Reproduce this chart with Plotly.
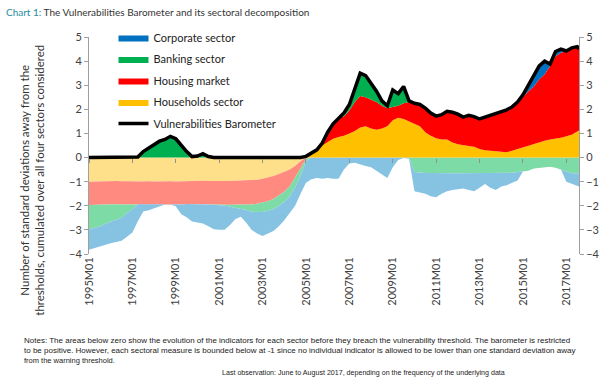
import plotly.graph_objects as go

# ---------------- data (quarterly readings, standard deviations) ----------------
months = [f"{y}M{m:02d}" for y in range(1995, 2017) for m in (1, 4, 7, 10)] + ["2017M01", "2017M04", "2017M07", "2017M08"]

households = [
    -1.00, -0.99, -1.00, -0.98, -0.98, -0.97, -0.98, -0.97, -0.98, -0.99, -0.97, -0.98,
    -0.99, -0.98, -0.97, -0.98, -0.99, -0.98, -0.97, -0.98, -0.97, -0.96, -0.97, -0.98,
    -0.98, -0.97, -0.97, -0.96, -0.97, -0.96, -0.95, -0.92, -0.88, -0.83, -0.77, -0.68,
    -0.60, -0.50, -0.35, -0.15, 0.05, 0.18, 0.30, 0.50, 0.65, 0.78, 0.85, 0.90,
    1.00, 1.10, 1.25, 1.30, 1.20, 1.15, 1.20, 1.30, 1.55, 1.65, 1.60, 1.50,
    1.42, 1.30, 1.05, 0.90, 0.80, 0.75, 0.75, 0.62, 0.55, 0.50, 0.48, 0.45,
    0.35, 0.30, 0.28, 0.26, 0.23, 0.22, 0.28, 0.35, 0.42, 0.50, 0.58, 0.63,
    0.70, 0.75, 0.78, 0.82, 0.88, 0.95, 1.08, 1.12]

housing = [
    -0.97, -0.97, -0.96, -0.97, -0.96, -0.97, -0.97, -0.98, -0.96, -0.95, -0.97, -0.96,
    -0.97, -0.98, -0.98, -0.97, -0.98, -0.97, -0.96, -0.97, -0.97, -0.98, -0.98, -0.99,
    -0.99, -0.99, -0.99, -1.00, -1.00, -1.00, -1.00, -1.00, -1.00, -0.98, -0.95, -0.90,
    -0.82, -0.70, -0.50, -0.30, -0.05, 0.00, 0.02, 0.10, 0.40, 0.62, 0.80, 0.80,
    0.95, 1.20, 1.30, 1.20, 1.20, 1.15, 0.95, 0.75, 0.55, 0.50, 0.65, 0.80,
    0.83, 0.90, 1.00, 0.95, 0.92, 1.03, 1.17, 1.26, 1.25, 1.18, 1.27, 1.25,
    1.25, 1.38, 1.47, 1.56, 1.67, 1.76, 1.82, 1.95, 2.08, 2.25, 2.37, 2.62,
    2.75, 3.05, 3.42, 3.53, 3.54, 3.60, 3.52, 3.38]

banking = [
    -1.00, -0.95, -0.90, -0.80, -0.72, -0.65, -0.55, -0.35, -0.20, 0.02, 0.25, 0.40,
    0.55, 0.68, 0.75, 0.80, 0.78, 0.50, 0.25, 0.04, 0.06, 0.16, 0.04, 0.00,
    -0.02, -0.03, -0.08, -0.12, -0.15, -0.22, -0.30, -0.35, -0.38, -0.40, -0.42, -0.42,
    -0.42, -0.41, -0.38, -0.30, -0.10, 0.00, 0.00, 0.00, 0.00, 0.00, 0.00, 0.15,
    0.25, 0.50, 0.95, 0.90, 0.70, 0.45, 0.20, 0.10, 0.70, 0.50, 0.70, 0.05,
    -0.60, -0.63, -0.64, -0.64, -0.65, -0.65, -0.65, -0.65, -0.65, -0.65, -0.65, -0.65,
    -0.65, -0.65, -0.65, -0.65, -0.65, -0.65, -0.63, -0.60, -0.58, -0.55, -0.45, -0.42,
    -0.40, -0.38, -0.42, -0.50, -0.60, -0.65, -0.65, -0.65]

corporate = [
    -0.85, -0.84, -0.84, -0.85, -0.89, -0.91, -0.95, -0.98, -0.97, -0.70, -0.30, -0.25,
    -0.15, -0.05, 0.00, 0.08, -0.05, -0.40, -0.55, -0.70, -0.75, -0.80, -0.90, -1.00,
    -1.00, -1.00, -0.76, -0.47, -0.34, -0.52, -0.75, -0.88, -0.99, -0.94, -0.91, -0.85,
    -0.76, -0.69, -0.77, -0.75, -0.90, -0.90, -0.85, -0.88, -0.85, -0.88, -0.88, -0.50,
    -0.25, -0.22, -0.30, -0.35, -0.40, -0.55, -0.70, -0.85, -0.40, -0.10, -0.02, -0.05,
    -0.80, -0.82, -0.86, -0.96, -1.00, -0.85, -0.75, -0.70, -0.65, -0.63, -0.70, -0.75,
    -0.60, -0.45, -0.60, -0.70, -0.55, -0.50, -0.42, -0.35, 0.10, 0.25, 0.50, 0.55,
    0.55, 0.08, 0.20, 0.15, -0.40, -0.45, -0.55, -0.55]

tick_labels = ["1995M01", "1997M01", "1999M01", "2001M01", "2003M01", "2005M01",
               "2007M01", "2009M01", "2011M01", "2013M01", "2015M01", "2017M01"]

# ---------------- helpers ----------------
def to_num(label):
    y, m = label.split("M")
    return int(y) + (int(m) - 1) / 12.0

x = [to_num(m) for m in months]
tickvals = [to_num(t) for t in tick_labels]
pos = lambda s: [max(v, 0.0) for v in s]
neg = lambda s: [min(v, 0.0) for v in s]
barometer = [a + b + c + d for a, b, c, d in zip(pos(households), pos(housing), pos(banking), pos(corporate))]

FONT = "Lato, Carlito, Calibri, sans-serif"
TXT = "#404040"

sectors = [
    ("Households sector", households, "#FFC000", "#FFE08A", 4),
    ("Housing market", housing, "#FF0000", "#FF8A80", 3),
    ("Banking sector", banking, "#00B050", "#7DDBA6", 2),
    ("Corporate sector", corporate, "#0070C0", "#86C3E3", 1),
]

fig = go.Figure()
for name, s, _, light, _ in sectors:
    fig.add_trace(go.Scatter(x=x, y=neg(s), stackgroup="neg", mode="lines",
                             line=dict(width=0), fillcolor=light, showlegend=False,
                             hoverinfo="skip", name=name + " (below)"))
for name, s, col, _, rank in sectors:
    fig.add_trace(go.Scatter(x=x, y=pos(s), stackgroup="pos", mode="lines",
                             line=dict(width=0), fillcolor=col, name=name,
                             legendrank=rank, legendgroup=name))
fig.add_trace(go.Scatter(x=x, y=barometer, mode="lines", line=dict(color="black", width=3.5),
                         name="Vulnerabilities Barometer", legendrank=5,
                         legendgroup="baro"))
# invisible trace to carry the right-hand / zero-line axes
fig.add_trace(go.Scatter(x=x, y=barometer, xaxis="x2", yaxis="y2", mode="lines",
                         line=dict(width=0, color="rgba(0,0,0,0)"), showlegend=False,
                         hoverinfo="skip"))

axis_font = dict(family=FONT, size=11, color=TXT)
fig.update_layout(
    width=612, height=384,
    margin=dict(l=89, r=27, t=37, b=130),
    paper_bgcolor="white", plot_bgcolor="white",
    font=dict(family=FONT, color=TXT),
    showlegend=True,
    legend=dict(x=0.05, y=1.064, xanchor="left", yanchor="top",
                bgcolor="rgba(0,0,0,0)", font=dict(family=FONT, size=11, color="#222"),
                traceorder="grouped", tracegroupgap=2.5, itemwidth=30),
    xaxis=dict(range=[1995.0, 2017.583], tickvals=tickvals, ticktext=tick_labels,
               tickangle=-90, tickfont=axis_font, showgrid=False, zeroline=False,
               showline=False, ticks=""),
    xaxis2=dict(overlaying="x", matches="x", anchor="free", position=4 / 9,
                tickvals=tickvals, ticks="outside", ticklen=4, tickcolor="#909090",
                showticklabels=False, showgrid=False, zeroline=False, showline=False),
    yaxis=dict(range=[-4, 5], dtick=1, ticks="outside", ticklen=4, tickcolor="#A0A0A0",
               showline=True, linecolor="#A0A0A0", linewidth=1, showgrid=False,
               zeroline=False, tickfont=axis_font),
    yaxis2=dict(range=[-4, 5], dtick=1, overlaying="y", side="right", anchor="x",
                ticks="outside", ticklen=4, tickcolor="#A0A0A0", showline=True,
                linecolor="#A0A0A0", linewidth=1, showgrid=False, zeroline=False,
                tickfont=axis_font),
)

def px_x(p):
    return (p - 89) / 496.0

def px_y(p):
    return (254 - p) / 217.0

ann = [
    dict(text="<span style='color:#1F8E9E'>Chart 1:</span> The Vulnerabilities Barometer and its sectoral decomposition",
         x=px_x(3), y=px_y(12), xanchor="left", yanchor="middle",
         font=dict(family=FONT, size=10, color="#333333")),
    dict(text="Number of standard deviations away from the<br>thresholds, cumulated over all four sectors considered",
         x=px_x(31), y=px_y(180), textangle=-90, xanchor="center", yanchor="middle",
         font=dict(family=FONT, size=11.5, color="#333333")),
]
notes = [
    ("Notes: The areas below zero show the evolution of the indicators for each sector before they breach the vulnerability threshold. The barometer is restricted", 21, 340, "left", 8.0),
    ("to be positive. However, each sectoral measure is bounded below at -1 since no individual indicator is allowed to be lower than one standard deviation away", 21, 350.5, "left", 8.0),
    ("from the warning threshold.", 21, 360.5, "left", 7.5),
    ("Last observation: June to August 2017, depending on the frequency of the underlying data", 512, 373, "right", 7.1),
]
for t, px, py, anc, fs in notes:
    ann.append(dict(text=t, x=px_x(px), y=px_y(py), xanchor=anc, yanchor="middle",
                    font=dict(family="Liberation Sans, Arial, sans-serif", size=fs, color="#222")))
for a in ann:
    a.update(xref="paper", yref="paper", showarrow=False)
fig.update_layout(annotations=ann)

fig.write_html("out.html", config={"displayModeBar": False},
               post_script="document.body.style.margin='0';")
